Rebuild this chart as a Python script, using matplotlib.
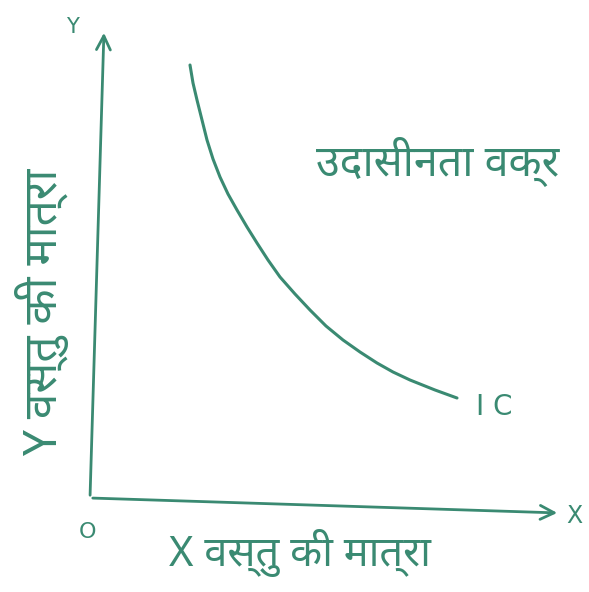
import matplotlib
matplotlib.use("Agg")
import matplotlib.pyplot as plt

# indifference curve, drawn in page coordinates (x right, y down)
curve_x = [190, 193, 197, 202, 207, 213, 220, 228, 237, 247, 257, 268, 280, 295, 310, 326, 343, 360, 377, 393, 410, 435, 457]
curve_y = [65, 83, 100, 120, 140, 159, 177, 194, 210, 227, 243, 260, 277, 294, 310, 326, 340, 352, 363, 372, 380, 390, 398]

origin = (90, 498)
y_axis_top = (104, 30)
x_axis_end = (560, 513)

ink = "#3a8a72"
fonts = ["Noto Sans", "DejaVu Sans"]

fig = plt.figure(figsize=(5.89, 5.92), dpi=100)
ax = fig.add_axes([0, 0, 1, 1])
ax.set_xlim(0, 589)
ax.set_ylim(592, 0)
ax.axis("off")

# axes with arrow heads
ax.annotate("", xy=y_axis_top, xytext=origin,
            arrowprops=dict(arrowstyle="->", color=ink, lw=2, mutation_scale=25))
ax.annotate("", xy=x_axis_end, xytext=origin,
            arrowprops=dict(arrowstyle="->", color=ink, lw=2, mutation_scale=25))

ax.plot(curve_x, curve_y, color=ink, lw=2.2, solid_capstyle="round",
        solid_joinstyle="round")

ax.text(72, 27, "Y", color=ink, fontsize=15, ha="center", va="center")
ax.text(574, 516, "X", color=ink, fontsize=17, ha="center", va="center")
ax.text(88, 532, "O", color=ink, fontsize=16, ha="center", va="center")
ax.text(476, 407, "I C", color=ink, fontsize=20, ha="left", va="center")

ax.text(316, 162, "उदासीनता वक्र", color=ink, fontsize=31, ha="left", va="center",
        family=fonts)
ax.text(300, 553, "X वस्तु की मात्रा", color=ink, fontsize=30, ha="center", va="center",
        family=fonts)
ax.text(42, 312, "Y वस्तु की मात्रा", color=ink, fontsize=33, ha="center", va="center",
        rotation=90, family=fonts)

fig.savefig("out.png", dpi=100, facecolor="white")
